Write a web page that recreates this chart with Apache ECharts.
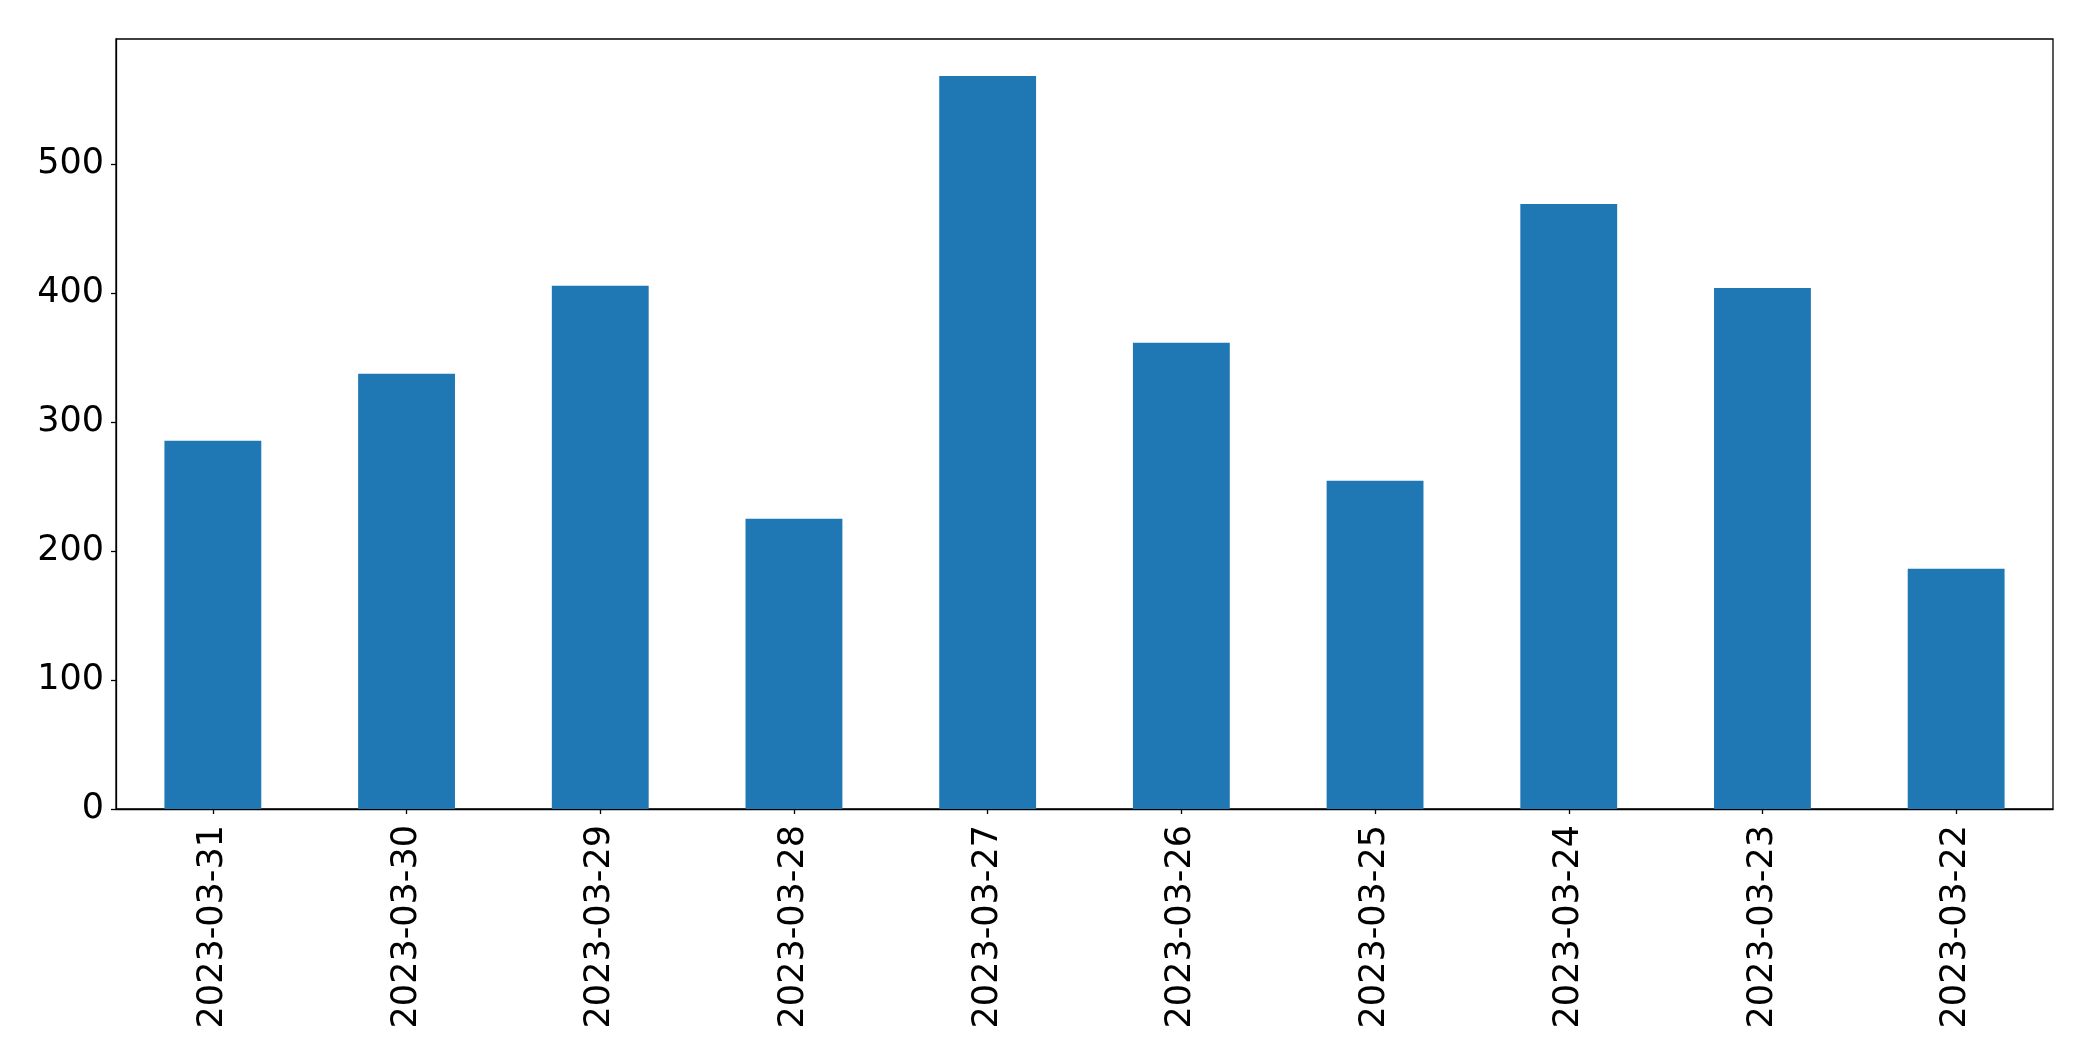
<!DOCTYPE html>
<html>
<head>
<meta charset="utf-8">
<script src="https://cdn.jsdelivr.net/npm/echarts@6/dist/echarts.min.js"></script>
<style>
html,body{margin:0;padding:0;background:#fff;}
#chart{width:2093px;height:1061px;}
</style>
</head>
<body>
<div id="chart"></div>
<script>
const categories = ['2023-03-31','2023-03-30','2023-03-29','2023-03-28','2023-03-27','2023-03-26','2023-03-25','2023-03-24','2023-03-23','2023-03-22'];
const values = [285.5, 337.4, 405.7, 225.0, 568.4, 361.5, 254.5, 469, 404, 186.3];
const yTicks = [0, 100, 200, 300, 400, 500];

const font = 'DejaVu Sans';
const chart = echarts.init(document.getElementById('chart'), null, {renderer: 'canvas'});
chart.setOption({
  animation: false,
  backgroundColor: '#ffffff',
  grid: {
    left: 116, right: 40, top: 39, bottom: 252,
    show: true, borderColor: '#000', borderWidth: 1.3, backgroundColor: 'transparent'
  },
  xAxis: {
    type: 'category',
    data: categories,
    axisLine: {show: true, lineStyle: {color: '#000', width: 1.3}},
    axisTick: {show: true, alignWithLabel: true, length: 5, lineStyle: {color: '#000', width: 1.3}},
    axisLabel: {rotate: 90, fontSize: 35, fontFamily: font, color: '#000', margin: 16, interval: 0},
    splitLine: {show: false}
  },
  yAxis: {
    type: 'value',
    min: 0,
    max: 597,
    interval: 100,
    axisLine: {show: true, lineStyle: {color: '#000', width: 1.3}},
    axisTick: {show: true, length: 5, customValues: yTicks, lineStyle: {color: '#000', width: 1.3}},
    axisLabel: {fontSize: 35, fontFamily: font, color: '#000', margin: 12, customValues: yTicks, padding: [5, 0, 0, 0]},
    splitLine: {show: false}
  },
  series: [{
    type: 'bar',
    data: values,
    barWidth: '50%',
    itemStyle: {color: '#1f77b4'}
  }]
});
</script>
</body>
</html>
